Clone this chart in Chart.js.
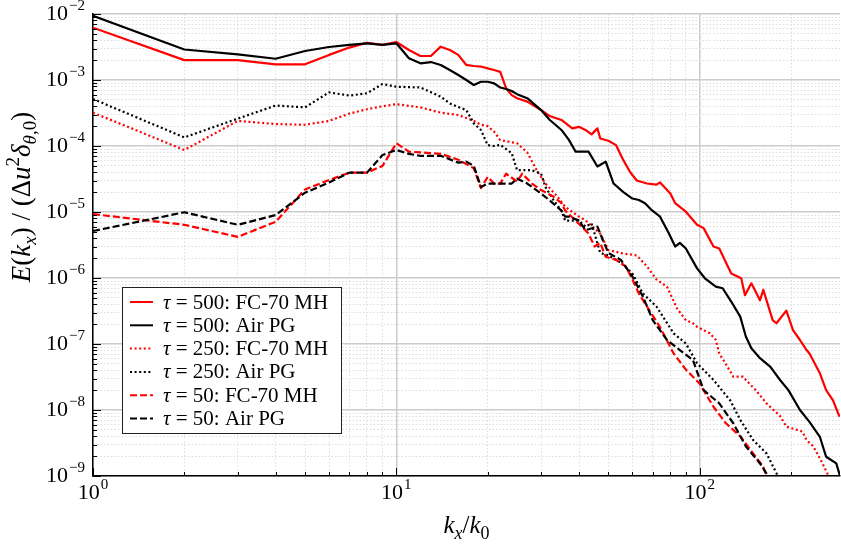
<!DOCTYPE html>
<html>
<head>
<meta charset="utf-8">
<script src="https://cdn.jsdelivr.net/npm/chart.js@4.4.0/dist/chart.umd.min.js"></script>
<style>
  html, body { margin: 0; padding: 0; background: #fff; }
  canvas { display: block; }
</style>
</head>
<body>
<canvas id="c" width="841" height="544" style="width:841px;height:544px"></canvas>
<script>
// --- DATA ---
// tau = 500, FC-70 MH
const kR500 = [1,2,3,4,5,6,7,8,9,10,11,12,13,14,15,16,17,18,19,20,21,22,23,24,25,27,30,32,35,38,40,42,44,46,47,50,53,56,59,62,67,72,74,80,83,90,98,103,111,116,127,137,141,148,158,162,174,179,193,203,214,225,230,249,261,275,289];
const eR500 = [6.2e-3,2.0e-3,2.0e-3,1.73e-3,1.73e-3,2.4e-3,3.1e-3,3.67e-3,3.4e-3,3.77e-3,2.85e-3,2.31e-3,2.31e-3,3.2e-3,2.85e-3,2.4e-3,1.69e-3,1.63e-3,1.6e-3,1.5e-3,1.42e-3,1.33e-3,7.5e-4,5.9e-4,5.3e-4,4.7e-4,3.5e-4,2.85e-4,2.48e-4,1.85e-4,1.95e-4,1.75e-4,1.5e-4,1.85e-4,1.3e-4,1.2e-4,1.03e-4,6.1e-5,4.0e-5,3.0e-5,2.7e-5,2.6e-5,2.8e-5,1.9e-5,1.36e-5,1.01e-5,6.4e-6,5.7e-6,3.0e-6,2.8e-6,1.17e-6,9.9e-7,5.5e-7,8.3e-7,4.6e-7,6.6e-7,2.3e-7,2.06e-7,3.2e-7,1.62e-7,1.15e-7,8.1e-8,7.2e-8,3.6e-8,2.0e-8,1.4e-8,7.9e-9];
// tau = 500, Air PG
const kA500 = [1,2,3,4,5,6,7,8,9,10,11,12,13,14,15,16,17,18,19,20,21,22,23,24,25,27,30,32,35,37,39,43,46,49,52,56,60,63,66,69,74,79,83,86,90,98,104,113,119,127,136,142,148,158,171,184,196,214,230,249,261,282,290];
const eA500 = [9.4e-3,2.9e-3,2.45e-3,2.1e-3,2.75e-3,3.16e-3,3.4e-3,3.6e-3,3.4e-3,3.6e-3,2.13e-3,1.79e-3,1.87e-3,1.69e-3,1.42e-3,1.19e-3,1.0e-3,8.4e-4,9.4e-4,9.4e-4,8.9e-4,7.7e-4,7.3e-4,6.8e-4,6.1e-4,5.3e-4,3.5e-4,2.5e-4,1.75e-4,1.25e-4,8.2e-5,8.2e-5,4.9e-5,5.8e-5,2.7e-5,2.0e-5,1.6e-5,1.52e-5,1.36e-5,1.1e-5,8.5e-6,4.8e-6,3.0e-6,3.4e-6,2.8e-6,1.4e-6,9.9e-7,7.4e-7,7.0e-7,4.4e-7,2.6e-7,1.29e-7,8.6e-8,6.1e-8,4.5e-8,2.85e-8,2.0e-8,1.0e-8,6.6e-9,3.9e-9,1.96e-9,1.55e-9,1.0e-9];
// tau = 250, FC-70 MH
const kR250 = [1,2,3,4,5,6,7,8,9,10,12,14,16,18,19,20,21,22,25,27,29,31,34,36,40,42,47,50,56,62,67,72,78,84,90,95,98,108,113,116,125,129,139,142,153,166,184,193,218,225,237,254,266];
const eR250 = [3.2e-4,8.7e-5,2.4e-4,2.15e-4,2.1e-4,2.4e-4,3.1e-4,3.6e-4,4.0e-4,4.3e-4,3.85e-4,3.2e-4,2.95e-4,2.4e-4,2.1e-4,2.0e-4,1.65e-4,1.23e-4,1.1e-4,8.0e-5,4.3e-5,2.7e-5,1.7e-5,1.2e-5,8.5e-6,7.5e-6,4.7e-6,2.65e-6,2.35e-6,2.2e-6,1.5e-6,9.5e-7,7.4e-7,3.5e-7,2.3e-7,2.06e-7,1.82e-7,1.45e-7,1.15e-7,7.2e-8,4.1e-8,3.2e-8,3.2e-8,2.85e-8,2.0e-8,1.26e-8,8.1e-9,5.6e-9,4.7e-9,3.5e-9,2.8e-9,1.55e-9,1.0e-9];
// tau = 250, Air PG
const kA250 = [1,2,3,4,5,6,7,8,9,10,12,14,15,17,18,19,20,21,22,24,25,28,30,31,33,35,36,40,42,44,47,50,55,60,65,72,82,90,98,111,126,136,150,166,180];
const eA250 = [5.15e-4,1.35e-4,2.6e-4,4.1e-4,3.85e-4,6.5e-4,5.8e-4,6.3e-4,8.7e-4,7.9e-4,7.7e-4,5.6e-4,4.4e-4,3.5e-4,2.2e-4,1.75e-4,1.03e-4,1.0e-4,1.04e-4,7.8e-5,4.3e-5,4.3e-5,3.8e-5,2.4e-5,1.5e-5,1.05e-5,7.4e-6,7.4e-6,6.0e-6,6.7e-6,2.4e-6,2.2e-6,1.7e-6,1.17e-6,5.8e-7,3.7e-7,1.45e-7,1.02e-7,5.1e-8,2.85e-8,1.4e-8,7.1e-9,3.5e-9,2.2e-9,1.05e-9];
// tau = 50, FC-70 MH
const kR50 = [1,2,3,4,5,6,7,8,9,10,11,12,14,16,18,19,20,21,22,23,25,26,28,30,33,35,36,39,41,43,45,47,49,53,57,60,63,67,74,82,90,100,111,122,136,150,162,166];
const eR50 = [9.3e-6,6.4e-6,4.2e-6,7.1e-6,2.2e-5,3.05e-5,3.95e-5,3.95e-5,5.0e-5,1.1e-4,8.2e-5,8.0e-5,7.6e-5,6.2e-5,4.6e-5,2.3e-5,3.4e-5,2.7e-5,2.7e-5,3.8e-5,2.9e-5,3.8e-5,2.7e-5,2.15e-5,1.7e-5,1.36e-5,1.05e-5,7.4e-6,5.9e-6,4.7e-6,3.0e-6,3.4e-6,2.1e-6,1.88e-6,1.5e-6,9.5e-7,5.8e-7,3.7e-7,1.8e-7,7.2e-8,4.1e-8,2.5e-8,1.12e-8,6.3e-9,4.0e-9,2.2e-9,1.38e-9,1.0e-9];
// tau = 50, Air PG
const kA50 = [1,2,3,4,5,6,7,8,9,10,11,12,14,16,17,18,19,20,22,24,25,27,30,32,35,36,37,40,42,46,48,50,55,60,65,70,78,86,95,103,116,129,142,158,168];
const eA50 = [5.15e-6,9.9e-6,6.4e-6,9.0e-6,1.96e-5,2.8e-5,3.95e-5,3.95e-5,7.3e-5,8.7e-5,7.6e-5,7.1e-5,7.1e-5,5.6e-5,5.8e-5,5.0e-5,2.4e-5,2.7e-5,2.7e-5,2.7e-5,3.2e-5,2.7e-5,1.9e-5,1.5e-5,1.05e-5,8.5e-6,8.5e-6,7.4e-6,5.3e-6,6.0e-6,3.7e-6,2.4e-6,1.88e-6,1.05e-6,5.2e-7,2.3e-7,1.15e-7,8.1e-8,5.7e-8,2.0e-8,1.26e-8,6.3e-9,2.8e-9,1.55e-9,1.0e-9];

const labels = ['500: FC-70 MH', '500: Air PG', '250: FC-70 MH', '250: Air PG', '50: FC-70 MH', '50: Air PG'];
const xTicks = [1,2,3,4,5,6,7,8,9,10,20,30,40,50,60,70,80,90,100,200];
const yTicks = [1e-9,2e-9,3e-9,4e-9,5e-9,6e-9,7e-9,8e-9,9e-9,1e-8,2e-8,3e-8,4e-8,5e-8,6e-8,7e-8,8e-8,9e-8,
  1e-7,2e-7,3e-7,4e-7,5e-7,6e-7,7e-7,8e-7,9e-7,1e-6,2e-6,3e-6,4e-6,5e-6,6e-6,7e-6,8e-6,9e-6,
  1e-5,2e-5,3e-5,4e-5,5e-5,6e-5,7e-5,8e-5,9e-5,1e-4,2e-4,3e-4,4e-4,5e-4,6e-4,7e-4,8e-4,9e-4,
  1e-3,2e-3,3e-3,4e-3,5e-3,6e-3,7e-3,8e-3,9e-3,1e-2];

// --- STYLE ---
const SERIF = '"Liberation Serif", "DejaVu Serif", serif';
const RED = '#ff0000', BLACK = '#000000';
const DOT = [2, 2.6], DASH = [7, 3];
const styles = [
  { color: RED, dash: [] }, { color: BLACK, dash: [] },
  { color: RED, dash: DOT }, { color: BLACK, dash: DOT },
  { color: RED, dash: DASH }, { color: BLACK, dash: DASH }
];
const series = [[kR500, eR500], [kA500, eA500], [kR250, eR250], [kA250, eA250], [kR50, eR50], [kA50, eA50]];

const isMajor = v => Math.abs(Math.log10(v) - Math.round(Math.log10(v))) < 1e-6;
const mk = (k, e) => k.map((v, i) => ({ x: v, y: e[i] }));

// rich text: parts = [text, style]; style r/i roman/italic, sr/si subscript, sp superscript
function setFont(ctx, s, size) {
  const small = s.startsWith('s');
  const it = s.endsWith('i');
  ctx.font = `${it ? 'italic ' : ''}${small ? Math.round(size * 0.7) : size}px ${SERIF}`;
}
function richWidth(ctx, parts, size) {
  let w = 0;
  parts.forEach(([t, s]) => { setFont(ctx, s, size); w += ctx.measureText(t).width; });
  return w;
}
function drawRich(ctx, parts, x, y, size) {
  let cx = x;
  parts.forEach(([t, s]) => {
    setFont(ctx, s, size);
    let dy = 0;
    if (s === 'si' || s === 'sr') dy = size * 0.22;
    if (s === 'sp') dy = -size * 0.4;
    ctx.fillText(t, cx, y + dy);
    cx += ctx.measureText(t).width;
  });
}
function drawPow(ctx, exp, x, yMid, align) {
  ctx.textBaseline = 'middle';
  ctx.font = `22px ${SERIF}`;
  const wb = ctx.measureText('10').width;
  ctx.font = `15px ${SERIF}`;
  const we = ctx.measureText(exp).width;
  const w = wb + we + 1;
  const x0 = align === 'right' ? x - w : x - w / 2;
  ctx.font = `22px ${SERIF}`;
  ctx.fillText('10', x0, yMid);
  ctx.font = `15px ${SERIF}`;
  ctx.fillText(exp, x0 + wb + 1, yMid - 8);
}
const expStr = v => { const n = Math.round(Math.log10(v)); return n < 0 ? '\u2212' + (-n) : String(n); };

const decor = {
  id: 'decor',
  afterDraw(chart) {
    const { ctx, chartArea: a } = chart;
    const xs = chart.scales.x, ys = chart.scales.y;
    ctx.save();
    ctx.fillStyle = '#000';
    ctx.strokeStyle = '#000';
    ctx.lineWidth = 1;
    // inner tick marks
    xTicks.forEach(v => {
      const p = Math.round(xs.getPixelForValue(v)) + 0.5;
      const L = isMajor(v) ? 8 : 4;
      ctx.beginPath(); ctx.moveTo(p, a.bottom); ctx.lineTo(p, a.bottom - L); ctx.stroke();
    });
    yTicks.forEach(v => {
      const p = Math.round(ys.getPixelForValue(v)) + 0.5;
      const L = isMajor(v) ? 8 : 4;
      ctx.beginPath(); ctx.moveTo(a.left, p); ctx.lineTo(a.left + L, p); ctx.stroke();
    });
    // tick labels
    xTicks.filter(isMajor).forEach(v => drawPow(ctx, expStr(v), xs.getPixelForValue(v), a.bottom + 17, 'center'));
    yTicks.filter(isMajor).forEach(v => drawPow(ctx, expStr(v), a.left - 8, ys.getPixelForValue(v), 'right'));

    // axis titles
    ctx.textBaseline = 'alphabetic';
    const xt = [['k', 'i'], ['x', 'si'], ['/', 'r'], ['k', 'i'], ['0', 'sr']];
    const wx = richWidth(ctx, xt, 25);
    drawRich(ctx, xt, (a.left + a.right) / 2 - wx / 2, 533, 25);
    const yt = [['E', 'i'], ['(', 'r'], ['k', 'i'], ['x', 'si'], [')', 'r'], [' / ', 'r'], ['(', 'r'], ['\u0394', 'r'],
      ['u', 'i'], ['2', 'sp'], ['\u03b4', 'i'], ['\u03b8', 'si'], [',0', 'sr'], [')', 'r']];
    const wy = richWidth(ctx, yt, 27);
    ctx.save();
    ctx.translate(30, 197);
    ctx.rotate(-Math.PI / 2);
    drawRich(ctx, yt, -wy / 2, 0, 27);
    ctx.restore();

    // legend
    const bx = 122, by = 287, bw = 219, bh = 146;
    ctx.fillStyle = '#fff';
    ctx.fillRect(bx, by, bw, bh);
    ctx.strokeStyle = '#222';
    ctx.lineWidth = 1;
    ctx.strokeRect(bx + 0.5, by + 0.5, bw, bh);
    ctx.textBaseline = 'middle';
    labels.forEach((lab, i) => {
      const yy = by + 15 + i * 23.3;
      ctx.strokeStyle = styles[i].color;
      ctx.lineWidth = 2;
      ctx.setLineDash(styles[i].dash);
      ctx.beginPath(); ctx.moveTo(130, yy); ctx.lineTo(153, yy); ctx.stroke();
      ctx.setLineDash([]);
      ctx.fillStyle = '#000';
      drawRich(ctx, [['\u03c4', 'i'], [' = ' + lab, 'r']], 163, yy + 1, 21);
    });
    ctx.restore();
  }
};

const gridOpts = {
  color: c => (c.tick && isMajor(c.tick.value)) ? '#cccccc' : '#dddddd',
  lineWidth: c => (c.tick && isMajor(c.tick.value)) ? 1.5 : 1,
  drawTicks: false
};
const borderOpts = {
  color: '#000', width: 1.5,
  dash: c => (c.tick && !isMajor(c.tick.value)) ? [1.5, 2] : []
};

new Chart(document.getElementById('c'), {
  type: 'line',
  data: {
    datasets: series.map(([k, e], i) => ({
      label: labels[i],
      data: mk(k, e),
      borderColor: styles[i].color,
      borderDash: styles[i].dash,
      borderWidth: 2.2,
      borderJoinStyle: 'round',
      pointRadius: 0,
      fill: false,
      order: 5 - i
    }))
  },
  options: {
    responsive: false,
    animation: false,
    devicePixelRatio: 1,
    layout: { padding: { top: 14, right: 1, left: 0, bottom: 0 } },
    plugins: { legend: { display: false }, tooltip: { enabled: false } },
    scales: {
      x: {
        type: 'logarithmic', min: 1, max: 290,
        afterBuildTicks: s => { s.ticks = xTicks.map(v => ({ value: v })); },
        afterFit: s => { s.height = 68; },
        ticks: { display: false },
        grid: gridOpts, border: borderOpts
      },
      y: {
        type: 'logarithmic', min: 1e-9, max: 1e-2,
        afterBuildTicks: s => { s.ticks = yTicks.map(v => ({ value: v })); },
        afterFit: s => { s.width = 93; },
        ticks: { display: false },
        grid: gridOpts, border: borderOpts
      }
    }
  },
  plugins: [decor]
});
</script>
</body>
</html>
